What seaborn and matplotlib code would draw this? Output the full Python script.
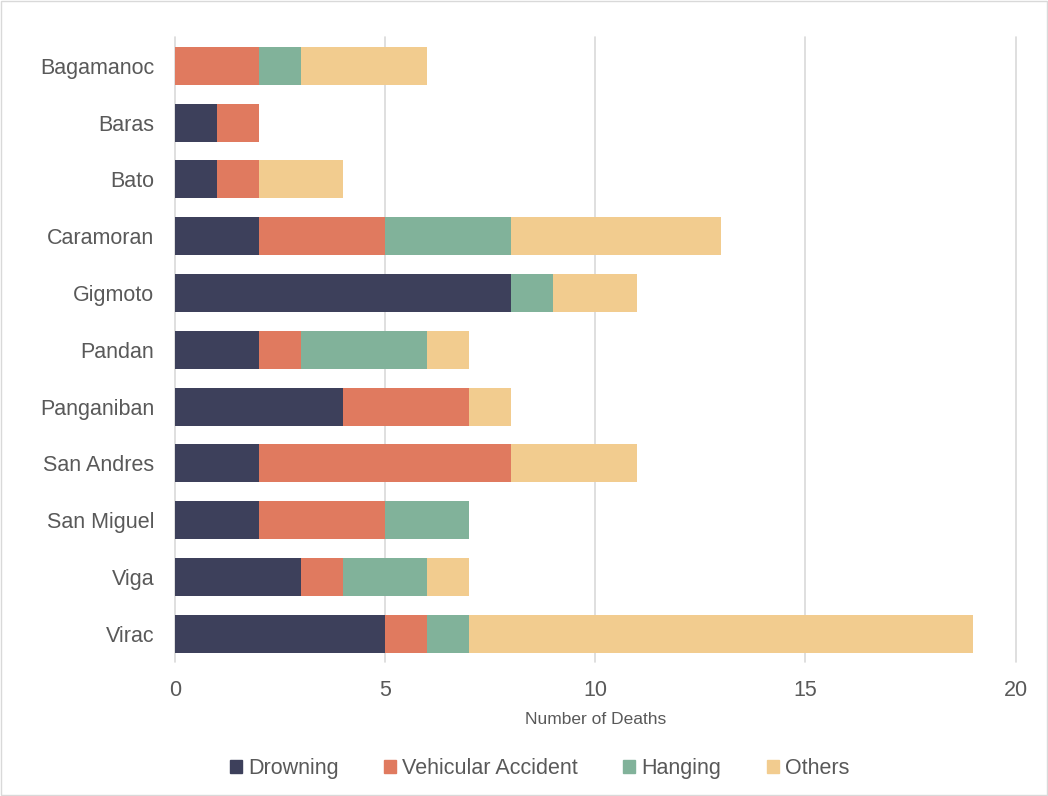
import matplotlib
matplotlib.use("Agg")
import matplotlib.pyplot as plt
import matplotlib.patches as mpatches
import seaborn as sns
import pandas as pd

towns = ["Bagamanoc", "Baras", "Bato", "Caramoran", "Gigmoto", "Pandan",
         "Panganiban", "San Andres", "San Miguel", "Viga", "Virac"]
drowning = [0, 1, 1, 2, 8, 2, 4, 2, 2, 3, 5]
vehicular = [2, 1, 1, 3, 0, 1, 3, 6, 3, 1, 1]
hanging = [1, 0, 0, 3, 1, 3, 0, 0, 2, 2, 1]
others = [3, 0, 2, 5, 2, 1, 1, 3, 0, 1, 12]

causes = ["Drowning", "Vehicular Accident", "Hanging", "Others"]
colors = ["#3D405B", "#E07A5F", "#81B29A", "#F2CC8F"]

df = pd.DataFrame({"town": towns, "Drowning": drowning,
                   "Vehicular Accident": vehicular, "Hanging": hanging,
                   "Others": others})

sns.set_style("white")
plt.rcParams["font.family"] = ["Liberation Sans", "DejaVu Sans"]

fig = plt.figure(figsize=(10.48, 7.96), dpi=100)
ax = fig.add_axes([0.167, 0.168, 0.802, 0.785])

# stacked bars: draw cumulative totals from the largest down
cum = df[causes].cumsum(axis=1)
for cause, col in reversed(list(zip(causes, colors))):
    sns.barplot(x=cum[cause], y=df["town"], color=col, width=0.67,
                orient="h", ax=ax, zorder=3, saturation=1, linewidth=0)

ax.set_xlim(0, 20)
ax.set_xticks([0, 5, 10, 15, 20])
ax.grid(axis="x", color="#D9D9D9", linewidth=1.2, zorder=0)
for gl in ax.get_xgridlines():
    gl.set_clip_on(False)
ax.set_axisbelow(True)
for s in ax.spines.values():
    s.set_visible(False)
ax.tick_params(axis="both", length=0, labelsize=15.5, labelcolor="#595959")
ax.tick_params(axis="y", pad=15)
ax.tick_params(axis="x", pad=13)
ax.set_ylabel("")
ax.set_xlabel("Number of Deaths", fontsize=12.5, color="#595959", labelpad=8)

handles = [mpatches.Patch(color=c, label=l) for l, c in zip(causes, colors)]
fig.legend(handles=handles, loc="center", bbox_to_anchor=(0.515, 0.035),
           ncol=4, frameon=False, fontsize=15.5, labelcolor="#595959",
           handlelength=0.55, handleheight=0.55, handletextpad=0.3,
           columnspacing=2.1)

fig.patches.append(mpatches.Rectangle((0.001, 0.001), 0.998, 0.998,
                                      transform=fig.transFigure, fill=False,
                                      edgecolor="#D9D9D9", linewidth=1))

fig.savefig("out.png", dpi=100)
